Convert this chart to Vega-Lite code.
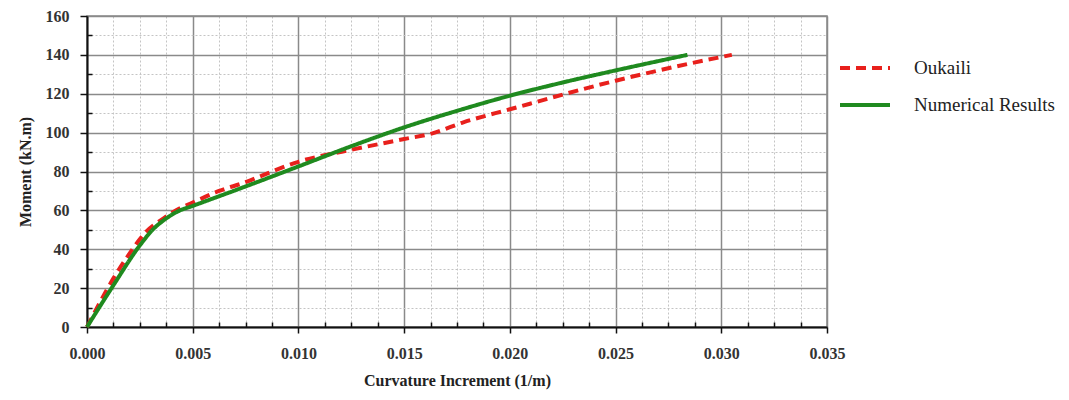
{
  "$schema": "https://vega.github.io/schema/vega-lite/v6.json",
  "autosize": "none",
  "width": 740,
  "height": 311,
  "padding": {"left": 87, "top": 16, "right": 242, "bottom": 73},
  "background": "white",
  "config": {
    "font": "Liberation Serif",
    "view": {"stroke": "#888", "strokeWidth": 1.5}
  },
  "data": {
    "values": [
      {"series": "Oukaili", "k": 0.0, "m": 0},
      {"series": "Oukaili", "k": 0.00125, "m": 25},
      {"series": "Oukaili", "k": 0.0019, "m": 36},
      {"series": "Oukaili", "k": 0.0028, "m": 49},
      {"series": "Oukaili", "k": 0.0035, "m": 55},
      {"series": "Oukaili", "k": 0.0042, "m": 60},
      {"series": "Oukaili", "k": 0.005, "m": 64},
      {"series": "Oukaili", "k": 0.00625, "m": 70},
      {"series": "Oukaili", "k": 0.0075, "m": 74.5},
      {"series": "Oukaili", "k": 0.00875, "m": 80},
      {"series": "Oukaili", "k": 0.010, "m": 85},
      {"series": "Oukaili", "k": 0.0123, "m": 90.7},
      {"series": "Oukaili", "k": 0.015, "m": 96.7},
      {"series": "Oukaili", "k": 0.0163, "m": 99.5},
      {"series": "Oukaili", "k": 0.0178, "m": 105.3},
      {"series": "Oukaili", "k": 0.020, "m": 112},
      {"series": "Oukaili", "k": 0.025, "m": 126.7},
      {"series": "Oukaili", "k": 0.0284, "m": 135.3},
      {"series": "Oukaili", "k": 0.0305, "m": 140},
      {"series": "Numerical Results", "k": 0.0, "m": 0},
      {"series": "Numerical Results", "k": 0.00125, "m": 21.5},
      {"series": "Numerical Results", "k": 0.0025, "m": 42},
      {"series": "Numerical Results", "k": 0.0031, "m": 50},
      {"series": "Numerical Results", "k": 0.0037, "m": 55.5},
      {"series": "Numerical Results", "k": 0.0043, "m": 59.5},
      {"series": "Numerical Results", "k": 0.005, "m": 62.3},
      {"series": "Numerical Results", "k": 0.0075, "m": 72.3},
      {"series": "Numerical Results", "k": 0.010, "m": 82.6},
      {"series": "Numerical Results", "k": 0.0125, "m": 93},
      {"series": "Numerical Results", "k": 0.015, "m": 102.7},
      {"series": "Numerical Results", "k": 0.0175, "m": 111.2},
      {"series": "Numerical Results", "k": 0.020, "m": 119},
      {"series": "Numerical Results", "k": 0.0225, "m": 125.8},
      {"series": "Numerical Results", "k": 0.025, "m": 132},
      {"series": "Numerical Results", "k": 0.0284, "m": 140}
    ]
  },
  "mark": {"type": "line", "strokeWidth": 4, "interpolate": "monotone"},
  "encoding": {
    "x": {
      "field": "k",
      "type": "quantitative",
      "scale": {"domain": [0, 0.035], "nice": false, "zero": true},
      "axis": {
        "title": "Curvature Increment (1/m)",
        "titleFont": "Liberation Serif",
        "titleFontSize": 16,
        "titleFontWeight": "bold",
        "titleColor": "#222",
        "titlePadding": 11,
        "values": [0, 0.00125, 0.0025, 0.00375, 0.005, 0.00625, 0.0075, 0.00875, 0.01, 0.01125, 0.0125, 0.01375, 0.015, 0.01625, 0.0175, 0.01875, 0.02, 0.02125, 0.0225, 0.02375, 0.025, 0.02625, 0.0275, 0.02875, 0.03, 0.03125, 0.0325, 0.03375, 0.035],
        "labelExpr": "abs(datum.value*200 - round(datum.value*200)) < 0.001 ? format(datum.value, '.3f') : ''",
        "labelFont": "Liberation Serif",
        "labelFontSize": 16,
        "labelFontWeight": "bold",
        "labelColor": "#333",
        "labelPadding": 12,
        "labelFlush": false,
        "labelOverlap": false,
        "domainColor": "#111",
        "domainWidth": 2,
        "tickColor": "#111",
        "tickWidth": 1.5,
        "tickSize": {"condition": {"test": "abs(datum.value*200 - round(datum.value*200)) < 0.001", "value": 6}, "value": -5},
        "grid": true,
        "gridColor": {"condition": {"test": "abs(datum.value*200 - round(datum.value*200)) < 0.001", "value": "#8a8a8a"}, "value": "#c4c4c4"},
        "gridWidth": {"condition": {"test": "abs(datum.value*200 - round(datum.value*200)) < 0.001", "value": 1.5}, "value": 1},
        "gridDash": {"condition": {"test": "abs(datum.value*200 - round(datum.value*200)) < 0.001", "value": []}, "value": [2, 2]},
        "gridOpacity": 1
      }
    },
    "y": {
      "field": "m",
      "type": "quantitative",
      "scale": {"domain": [0, 160], "nice": false},
      "axis": {
        "title": "Moment (kN.m)",
        "titleFont": "Liberation Serif",
        "titleFontSize": 16,
        "titleFontWeight": "bold",
        "titleColor": "#222",
        "titlePadding": 12,
        "values": [0, 10, 20, 30, 40, 50, 60, 70, 80, 90, 100, 110, 120, 130, 140, 150, 160],
        "labelExpr": "datum.value % 20 == 0 ? datum.label : ''",
        "labelFont": "Liberation Serif",
        "labelFontSize": 16,
        "labelFontWeight": "bold",
        "labelColor": "#333",
        "labelPadding": 11,
        "labelOverlap": false,
        "labelFlush": false,
        "domainColor": "#111",
        "domainWidth": 2,
        "tickColor": "#111",
        "tickWidth": 1.5,
        "tickSize": {"condition": {"test": "datum.value % 20 == 0", "value": 7}, "value": -5},
        "grid": true,
        "gridColor": {"condition": {"test": "datum.value % 20 == 0", "value": "#8a8a8a"}, "value": "#c4c4c4"},
        "gridWidth": {"condition": {"test": "datum.value % 20 == 0", "value": 1.5}, "value": 1},
        "gridDash": {"condition": {"test": "datum.value % 20 == 0", "value": []}, "value": [2, 2]},
        "gridOpacity": 1
      }
    },
    "color": {
      "field": "series",
      "type": "nominal",
      "scale": {"domain": ["Oukaili", "Numerical Results"], "range": ["#e8201c", "#1f8a1f"]},
      "legend": {
        "title": null,
        "orient": "none",
        "legendX": 751,
        "legendY": 25,
        "symbolType": "stroke",
        "symbolSize": 2500,
        "symbolStrokeWidth": 4,
        "labelFont": "Liberation Serif",
        "labelFontSize": 19,
        "labelColor": "#222",
        "labelOffset": 22,
        "rowPadding": -2
      }
    },
    "strokeDash": {
      "field": "series",
      "type": "nominal",
      "scale": {"domain": ["Oukaili", "Numerical Results"], "range": [[10, 6], [1, 0]]},
      "legend": {
        "title": null,
        "orient": "none",
        "legendX": 751,
        "legendY": 25,
        "symbolType": "stroke",
        "symbolSize": 2500,
        "symbolStrokeWidth": 4,
        "labelFont": "Liberation Serif",
        "labelFontSize": 19,
        "labelColor": "#222",
        "labelOffset": 22,
        "rowPadding": -2
      }
    }
  }
}
